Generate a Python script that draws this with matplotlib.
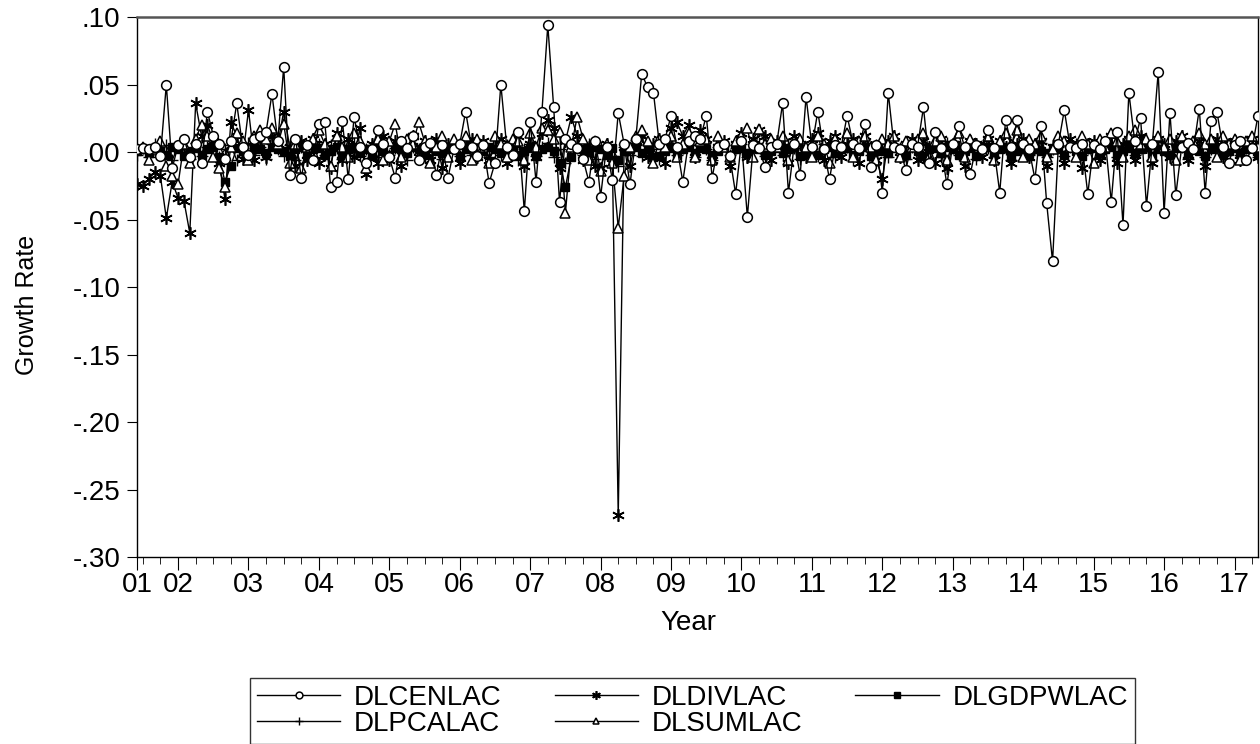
import numpy as np
import matplotlib.pyplot as plt
from matplotlib.ticker import FuncFormatter, FixedLocator

plt.rcParams['font.family'] = ['Liberation Sans', 'DejaVu Sans']

# monthly, 2001M06 .. 2017M05
start_year = 2001
start_month = 6

dlcenlac = [
    0.002, 0.003, 0.002, 0.004, -0.003, 0.050, -0.012, 0.005, 0.010, -0.004, 0.006, -0.008, 0.030,
    0.012, 0.006, -0.005, 0.008, 0.036, 0.004, -0.002, 0.010, 0.012, 0.015, 0.043, 0.008,
    0.063, -0.017, 0.010, -0.019, 0.005, -0.006, 0.021, 0.022, -0.026, -0.022, 0.023, -0.020,
    0.026, 0.004, -0.008, 0.002, 0.016, 0.006, -0.004, -0.019, 0.008, 0.003, 0.012, -0.006,
    0.004, 0.007, -0.017, 0.005, -0.019, 0.002, 0.006, 0.030, 0.004, -0.003, 0.005, -0.023,
    -0.008, 0.050, 0.004, -0.002, 0.015, -0.044, 0.022, -0.022, 0.030, 0.094, 0.033, -0.037,
    0.010, 0.006, 0.003, -0.005, -0.022, 0.008, -0.033, 0.004, -0.021, 0.029, 0.006, -0.024,
    0.010, 0.058, 0.048, 0.044, 0.006, 0.010, 0.027, 0.004, -0.022, 0.008, 0.012, 0.010,
    0.027, -0.019, 0.004, 0.006, -0.003, -0.031, 0.008, -0.048, 0.005, 0.003, -0.011, 0.004,
    0.006, 0.036, -0.030, 0.006, -0.017, 0.041, 0.004, 0.030, 0.002, -0.020, 0.005, 0.004,
    0.027, 0.006, 0.003, 0.021, -0.011, 0.005, -0.030, 0.044, 0.004, 0.002, -0.013, 0.006,
    0.004, 0.033, -0.008, 0.015, 0.003, -0.024, 0.006, 0.019, 0.004, -0.016, 0.005, 0.002,
    0.016, 0.003, -0.030, 0.024, 0.004, 0.024, 0.006, 0.002, -0.020, 0.019, -0.038, -0.081,
    0.006, 0.031, 0.004, 0.003, 0.006, -0.031, 0.005, 0.002, 0.008, -0.037, 0.015, -0.054,
    0.044, 0.008, 0.025, -0.040, 0.006, 0.059, -0.045, 0.029, -0.032, 0.004, 0.007, 0.002,
    0.032, -0.030, 0.023, 0.030, 0.004, -0.008, 0.005, 0.008, -0.006, 0.003, 0.027,
]

dldivlac = [
    -0.024, -0.025, -0.020, -0.015, -0.018, -0.049, -0.022, -0.034, -0.036, -0.060, 0.036, 0.012, 0.020,
    0.008, -0.008, -0.035, 0.022, 0.012, -0.005, 0.031, -0.006, 0.010, -0.004, 0.012, 0.006,
    0.030, 0.004, -0.010, 0.008, -0.006, 0.010, -0.008, 0.006, -0.012, 0.014, -0.006, 0.010,
    -0.004, 0.018, -0.016, 0.006, -0.008, 0.012, -0.006, 0.008, -0.010, 0.006, 0.012, -0.004,
    0.008, -0.006, 0.010, -0.012, 0.006, 0.004, -0.008, 0.006, 0.010, -0.004, 0.008, -0.006,
    0.004, 0.010, -0.008, 0.006, 0.012, -0.010, 0.006, -0.004, 0.014, 0.024, 0.018, -0.012,
    0.008, 0.026, 0.012, -0.006, 0.004, -0.010, -0.012, 0.006, -0.008, -0.269, 0.004, -0.010,
    0.008, 0.012, -0.004, 0.006, 0.010, -0.008, 0.018, 0.022, 0.012, 0.020, -0.004, 0.016,
    0.010, -0.006, 0.004, 0.008, -0.010, 0.006, 0.014, -0.004, 0.010, 0.016, 0.012, -0.006,
    0.008, 0.004, -0.008, 0.012, 0.006, -0.004, 0.010, 0.014, -0.006, 0.008, 0.012, -0.004,
    0.006, 0.010, -0.008, 0.012, 0.004, -0.006, -0.020, 0.008, 0.012, -0.004, 0.006, 0.010,
    -0.006, 0.008, 0.004, -0.008, 0.010, -0.012, 0.006, 0.004, -0.010, 0.008, 0.006, -0.004,
    0.010, -0.006, 0.008, 0.004, -0.008, 0.006, 0.010, -0.004, 0.006, 0.008, -0.010, 0.004,
    0.006, -0.008, 0.010, 0.004, -0.012, 0.006, 0.008, -0.006, 0.004, 0.012, -0.008, 0.006,
    0.010, -0.006, 0.012, 0.004, -0.008, 0.010, 0.006, -0.004, 0.008, 0.012, -0.006, 0.004,
    0.008, -0.010, 0.006, 0.010, -0.004, 0.006, 0.008, -0.006, 0.004, 0.010, -0.004,
]

dlgdpwlac = [
    0.001, 0.002, -0.001, 0.003, 0.001, -0.002, 0.004, 0.002, -0.003, 0.001, 0.003, -0.002, 0.002,
    0.004, -0.004, -0.022, -0.010, 0.003, 0.001, -0.002, 0.003, 0.002, -0.001, 0.004, 0.002,
    0.001, -0.003, 0.002, 0.004, -0.001, 0.002, 0.003, -0.002, 0.001, 0.004, -0.003, 0.002,
    0.003, -0.001, 0.002, -0.003, 0.004, 0.001, -0.002, 0.003, 0.002, -0.001, 0.004, 0.002,
    -0.002, 0.003, 0.001, -0.001, 0.004, 0.002, -0.003, 0.002, 0.003, -0.002, 0.001, 0.004,
    0.002, -0.001, 0.003, 0.004, -0.002, 0.001, 0.003, -0.003, 0.002, 0.004, 0.001, -0.008,
    -0.026, -0.004, 0.003, 0.002, -0.001, 0.004, 0.002, -0.002, 0.003, -0.006, 0.001, 0.002,
    0.004, -0.001, 0.002, -0.004, -0.003, 0.001, 0.003, -0.002, 0.002, 0.004, -0.001, 0.003,
    0.002, -0.002, 0.001, 0.004, -0.003, 0.002, 0.003, -0.001, 0.004, 0.002, -0.002, 0.001,
    0.003, -0.001, 0.002, 0.004, -0.003, 0.001, 0.003, -0.002, 0.002, 0.004, -0.001, 0.002,
    0.003, -0.002, 0.001, 0.004, -0.003, 0.002, 0.001, -0.001, 0.003, 0.002, -0.002, 0.004,
    0.001, -0.003, 0.002, 0.003, -0.001, 0.004, 0.002, -0.002, 0.001, 0.003, -0.003, 0.002,
    0.004, -0.001, 0.002, 0.003, -0.002, 0.001, 0.004, -0.003, 0.002, 0.001, -0.001, 0.003,
    0.002, -0.002, 0.004, 0.001, -0.003, 0.002, 0.003, -0.001, 0.002, 0.004, -0.002, 0.001,
    0.003, -0.001, 0.002, 0.004, -0.003, 0.002, 0.001, -0.002, 0.003, 0.004, -0.001, 0.002,
    0.001, -0.003, 0.002, 0.004, -0.002, 0.001, 0.003, -0.001, 0.002, 0.004, -0.002,
]

dlpcalac = [
    -0.002, 0.003, -0.004, 0.006, -0.002, 0.005, -0.006, 0.004, 0.002, -0.005, 0.007, -0.003, 0.004,
    0.006, -0.004, 0.002, 0.005, -0.006, 0.003, 0.007, -0.002, 0.004, -0.005, 0.006, 0.002,
    -0.003, 0.005, -0.006, 0.004, 0.002, -0.004, 0.006, -0.002, 0.005, 0.003, -0.005, 0.004,
    0.007, -0.003, 0.002, 0.005, -0.004, 0.006, -0.002, 0.003, 0.005, -0.006, 0.004, 0.002,
    -0.004, 0.006, 0.003, -0.005, 0.002, 0.007, -0.003, 0.004, -0.002, 0.005, 0.006, -0.004,
    0.003, -0.002, 0.005, 0.004, -0.006, 0.002, 0.006, -0.003, 0.004, 0.007, -0.004, 0.002,
    -0.008, 0.005, 0.003, -0.002, 0.006, -0.005, 0.004, 0.002, -0.003, -0.010, 0.004, -0.002,
    0.005, -0.003, 0.006, 0.002, -0.005, 0.004, 0.007, -0.002, 0.003, 0.005, -0.004, 0.006,
    0.002, -0.006, 0.004, 0.005, -0.002, 0.003, 0.006, -0.004, 0.002, 0.007, -0.003, 0.004,
    0.005, -0.002, 0.006, 0.003, -0.005, 0.004, 0.002, -0.003, 0.006, 0.005, -0.004, 0.002,
    0.004, -0.006, 0.003, 0.007, -0.002, 0.005, 0.002, -0.004, 0.006, 0.003, -0.005, 0.004,
    0.006, -0.003, 0.002, 0.005, -0.004, 0.007, 0.003, -0.002, 0.004, 0.006, -0.005, 0.002,
    0.003, -0.004, 0.006, 0.002, -0.006, 0.005, 0.004, -0.002, 0.003, 0.007, -0.004, 0.002,
    0.005, -0.003, 0.004, 0.006, -0.002, 0.003, 0.005, -0.005, 0.002, 0.006, -0.004, 0.004,
    0.007, -0.002, 0.003, 0.005, -0.006, 0.004, 0.002, -0.003, 0.006, 0.004, -0.005, 0.003,
    0.005, -0.004, 0.002, 0.006, -0.003, 0.004, 0.007, -0.002, 0.003, 0.005, -0.004,
]

dlsumlac = [
    0.003, 0.004, -0.006, 0.002, 0.008, -0.010, -0.018, -0.024, 0.006, -0.008, 0.010, 0.020, 0.012,
    -0.004, -0.012, -0.026, 0.004, 0.014, 0.008, -0.006, 0.012, 0.016, 0.010, 0.018, 0.006,
    0.021, -0.008, 0.006, -0.012, 0.004, 0.010, 0.016, 0.006, -0.010, 0.012, 0.004, -0.004,
    0.014, 0.008, -0.012, 0.004, 0.010, -0.006, 0.008, 0.021, -0.004, 0.010, 0.006, 0.022,
    0.008, -0.008, 0.004, 0.012, -0.004, 0.010, 0.006, 0.012, -0.006, 0.010, 0.004, -0.008,
    0.012, 0.006, -0.004, 0.010, 0.008, -0.006, 0.014, 0.004, 0.018, 0.016, 0.010, 0.015,
    -0.045, 0.004, 0.026, 0.010, -0.006, 0.008, -0.014, 0.006, -0.008, -0.056, -0.018, 0.004,
    0.012, 0.016, 0.008, -0.008, 0.010, 0.004, 0.012, -0.004, 0.006, 0.014, -0.004, 0.008,
    0.010, -0.006, 0.012, 0.004, -0.004, 0.008, 0.012, 0.018, -0.004, 0.017, 0.006, 0.010,
    0.004, 0.012, -0.006, 0.008, 0.010, 0.004, -0.004, 0.012, 0.006, -0.008, 0.010, 0.004,
    0.014, -0.004, 0.008, 0.012, 0.004, -0.006, 0.010, 0.006, 0.012, -0.004, 0.008, 0.004,
    0.010, 0.014, -0.004, 0.008, 0.012, -0.006, 0.006, 0.014, -0.004, 0.010, 0.006, 0.004,
    0.012, -0.006, 0.008, 0.014, 0.006, 0.016, -0.004, 0.010, 0.006, 0.012, -0.004, 0.002,
    0.012, 0.008, 0.004, -0.004, 0.012, 0.006, -0.008, 0.010, 0.004, 0.014, 0.008, -0.004,
    0.012, 0.016, 0.006, 0.010, -0.004, 0.012, 0.004, 0.010, -0.006, 0.012, 0.006, 0.008,
    0.014, 0.006, 0.010, -0.004, 0.012, 0.006, 0.010, -0.006, 0.008, 0.012, 0.004,
]

year_labels = ['01', '02', '03', '04', '05', '06', '07', '08', '09',
               '10', '11', '12', '13', '14', '15', '16', '17']

n = len(dlcenlac)
t = start_year + (start_month - 1) / 12 + np.arange(n) / 12

fig = plt.figure(figsize=(12.6, 7.44), dpi=100)
ax = fig.add_axes([0.1087, 0.2513, 0.8897, 0.7258])

lw = 1.0
h_cen, = ax.plot(t, dlcenlac, color='black', lw=lw, marker='o', ms=7,
                 mfc='white', mec='black', mew=1.1, label='DLCENLAC', zorder=6)
h_div, = ax.plot(t, dldivlac, color='black', lw=lw, marker=(6, 2, 0), ms=9,
                 mec='black', mew=1.2, label='DLDIVLAC', zorder=3)
h_gdp, = ax.plot(t, dlgdpwlac, color='black', lw=lw, marker='s', ms=5.5,
                 mfc='black', mec='black', label='DLGDPWLAC', zorder=4)
h_pca, = ax.plot(t, dlpcalac, color='black', lw=lw, marker='+', ms=8,
                 mew=1.0, label='DLPCALAC', zorder=2)
h_sum, = ax.plot(t, dlsumlac, color='black', lw=lw, marker='^', ms=7,
                 mfc='white', mec='black', mew=1.1, label='DLSUMLAC', zorder=5)

ax.set_xlim(t[0], t[-1])
ax.set_ylim(-0.30, 0.10)

ax.yaxis.set_major_locator(FixedLocator(np.round(np.arange(-0.30, 0.101, 0.05), 2)))


def fmt(v, pos):
    v = round(v, 2)
    if v == 0:
        return '.00'
    s = f'{v:.2f}'
    return s.replace('0.', '.', 1)


ax.yaxis.set_major_formatter(FuncFormatter(fmt))

major = [t[0]] + list(range(2002, 2018))
ax.set_xticks(major)
ax.set_xticklabels(year_labels)
minor = [y + q for y in range(2001, 2018) for q in (0.25, 0.5, 0.75)]
minor = [m for m in minor if t[0] + 0.01 < m < t[-1]]
ax.set_xticks(minor, minor=True)

ax.tick_params(axis='both', direction='out', labelsize=20, color='black')
ax.tick_params(axis='x', which='major', length=9, pad=2)
ax.tick_params(axis='x', which='minor', length=5)
ax.tick_params(axis='y', length=7, pad=5)
ax.tick_params(top=False, right=False)
for sp in ax.spines.values():
    sp.set_linewidth(1.0)
ax.spines['top'].set_linewidth(1.8)
ax.spines['top'].set_color('#555555')

fig.text(27 / 1260, 1 - 305 / 744, 'Growth Rate', rotation=90,
         ha='center', va='center', fontsize=18)
fig.text(688 / 1260, 1 - 623 / 744, 'Year', ha='center', va='center', fontsize=20)

leg = fig.legend([h_cen, h_pca, h_div, h_sum, h_gdp],
                 ['DLCENLAC', 'DLPCALAC', 'DLDIVLAC', 'DLSUMLAC', 'DLGDPWLAC'],
                 loc='upper left', bbox_to_anchor=(250 / 1260, 1 - 678 / 744),
                 borderaxespad=0, ncol=3, fontsize=20, frameon=True, fancybox=False,
                 edgecolor='black', handlelength=3, handletextpad=0.5,
                 columnspacing=1.9, labelspacing=0.0, borderpad=0.25,
                 markerscale=0.7)
leg.get_frame().set_linewidth(1.0)

fig.savefig('out.png', dpi=100)
